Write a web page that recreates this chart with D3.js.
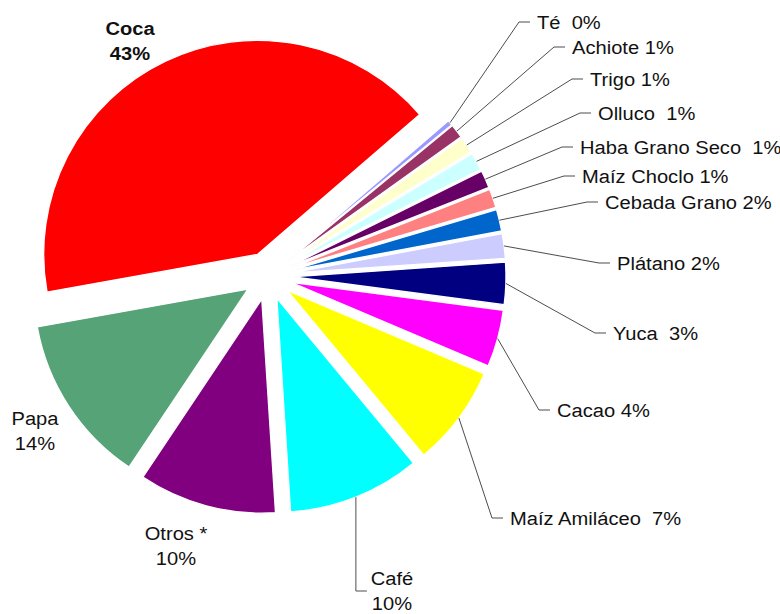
<!DOCTYPE html>
<html>
<head>
<meta charset="utf-8">
<script src="https://cdn.jsdelivr.net/npm/d3@7"></script>
<style>
  html, body { margin: 0; padding: 0; background: #fff; }
  svg text { font-family: "Liberation Sans", Arial, sans-serif; white-space: pre; fill: #111; }
</style>
</head>
<body>
<svg id="chart" width="780" height="614"></svg>
<script>
// ---- data (clockwise order, starting right after the Coca slice) ----
const categories = ["Té", "Achiote", "Trigo", "Olluco", "Haba Grano Seco", "Maíz Choclo",
  "Cebada Grano", "Plátano", "Yuca", "Cacao", "Maíz Amiláceo", "Café", "Otros *", "Papa", "Coca"];
const values = [0.39, 1.06, 1.22, 1.33, 1.33, 1.42, 1.64, 1.86, 3.17, 4.3, 7.6, 10.0, 10.4, 12.8, 41.5];
const pctLabels = ["0%", "1%", "1%", "1%", "1%", "1%", "2%", "2%", "3%", "4%", "7%", "10%", "10%", "14%", "43%"];
const separators = ["  ", " ", " ", "  ", "  ", " ", " ", " ", "  ", " ", "  ", "\n", "\n", "\n", "\n"];
const colors = ["#9999FF", "#993366", "#FFFFCC", "#CCFFFF", "#660066", "#FF8080",
  "#0066CC", "#CCCCFF", "#000080", "#FF00FF", "#FFFF00", "#00FFFF", "#800080", "#56A377", "#FF0000"];

// ---- layout (manually placed labels, as in the original) ----
const labelLayout = [
  {x: 537, y: 22, type: "right"},
  {x: 572, y: 47, type: "right"},
  {x: 590, y: 79, type: "right"},
  {x: 598, y: 113, type: "right"},
  {x: 580, y: 147, type: "right"},
  {x: 582, y: 176, type: "right"},
  {x: 605, y: 202, type: "right"},
  {x: 617, y: 263, type: "right"},
  {x: 613, y: 333, type: "right"},
  {x: 557, y: 410, type: "right"},
  {x: 510, y: 518, type: "right"},
  {x: 392, y: 578, type: "below", elbowY: 591},
  {x: 176, y: 533, type: "plain"},
  {x: 35, y: 418, type: "plain"},
  {x: 130, y: 28, type: "plain", bold: true}
];

const width = 780, height = 614;
const cx = 268, cy = 276, R = 214, explode = 24;
const fontSize = 19, lineGap = 25, stretch = 1.06;
const startDeg = 49.2;

const svg = d3.select("#chart");
const g = svg.append("g").attr("transform", `translate(${cx},${cy})`);

const pie = d3.pie().sort(null).value(d => d.value)
  .startAngle(startDeg * Math.PI / 180)
  .endAngle(startDeg * Math.PI / 180 + 2 * Math.PI);
const arc = d3.arc().innerRadius(0).outerRadius(R);

const data = categories.map((c, i) => ({
  name: c, value: values[i], pct: pctLabels[i], sep: separators[i],
  color: colors[i], layout: labelLayout[i]
}));
const arcs = pie(data);

function offset(a, r) {
  const m = (a.startAngle + a.endAngle) / 2;
  return [r * Math.sin(m), -r * Math.cos(m)];
}

g.selectAll("path.slice").data(arcs).join("path")
  .attr("class", "slice")
  .attr("d", arc)
  .attr("fill", d => d.data.color)
  .attr("stroke", "#fff")
  .attr("stroke-width", 1.3)
  .attr("stroke-linejoin", "round")
  .attr("transform", d => { const o = offset(d, explode); return `translate(${o[0]},${o[1]})`; });

// leader lines
const lines = svg.append("g");
arcs.forEach(d => {
  const L = d.data.layout;
  const o = offset(d, explode);
  const p = offset(d, R);
  const sx = cx + o[0] + p[0], sy = cy + o[1] + p[1];
  let pts = null;
  if (L.type === "right") {
    pts = [[sx, sy], [L.x - 18, L.y], [L.x - 7, L.y]];
  } else if (L.type === "below") {
    pts = [[sx, sy], [sx, L.elbowY], [sx + 11, L.elbowY]];
  }
  if (pts) {
    lines.append("path")
      .attr("d", d3.line()(pts))
      .attr("fill", "none")
      .attr("stroke", "#4d4d4d")
      .attr("stroke-width", 1);
  }
});

// labels
const labels = svg.append("g");
arcs.forEach(d => {
  const L = d.data.layout;
  const grp = labels.append("g").attr("transform", `translate(${L.x},${L.y}) scale(${stretch},1)`);
  if (L.type === "right") {
    grp.append("text")
      .attr("x", 0).attr("y", 0)
      .attr("dy", "0.35em")
      .attr("font-size", fontSize)
      .text(d.data.name + d.data.sep + d.data.pct);
  } else {
    const t = grp.append("text")
      .attr("text-anchor", "middle")
      .attr("font-size", fontSize)
      .attr("font-weight", L.bold ? "bold" : "normal");
    [d.data.name, d.data.pct].forEach((s, k) => {
      t.append("tspan").attr("x", 0).attr("y", k * lineGap).attr("dy", "0.35em").text(s);
    });
  }
});
</script>
</body>
</html>
